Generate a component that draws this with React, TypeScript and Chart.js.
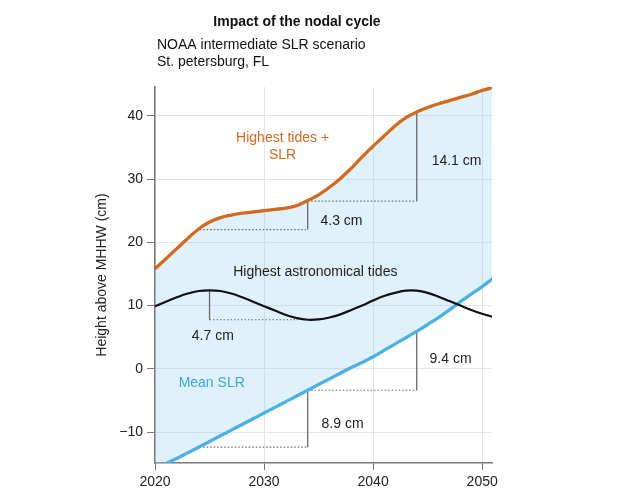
import React, { useEffect, useRef } from 'react';
import { Chart, registerables } from 'chart.js';

Chart.register(...registerables);

// ---- data ----
const years = [2020, 2021, 2022, 2023, 2024, 2025, 2026, 2027, 2028, 2029, 2030, 2031, 2032, 2033, 2034, 2035, 2036, 2037, 2038, 2039, 2040, 2041, 2042, 2043, 2044, 2045, 2046, 2047, 2048, 2049, 2050, 2051];
const highestTidesSLR = [15.8, 17.4, 19.0, 20.6, 22.1, 23.2, 23.9, 24.3, 24.6, 24.8, 25.0, 25.2, 25.4, 25.8, 26.6, 27.5, 28.7, 30.1, 31.7, 33.5, 35.2, 36.8, 38.4, 39.7, 40.6, 41.3, 41.9, 42.4, 42.9, 43.4, 44.0, 44.5];
const astroTides = [9.9, 10.6, 11.3, 11.9, 12.3, 12.4, 12.3, 11.9, 11.3, 10.6, 9.9, 9.2, 8.5, 8.0, 7.75, 7.8, 8.1, 8.6, 9.3, 10.0, 10.8, 11.5, 12.0, 12.35, 12.35, 12.0, 11.4, 10.7, 10.0, 9.3, 8.7, 8.2];
const meanSLR = [-15.9, -15.0, -14.2, -13.3, -12.4, -11.5, -10.6, -9.7, -8.8, -7.9, -7.0, -6.1, -5.2, -4.3, -3.4, -2.5, -1.6, -0.7, 0.2, 1.0, 1.9, 2.9, 3.9, 4.9, 5.9, 7.0, 8.1, 9.3, 10.6, 11.8, 13.0, 14.3];

const xTicks = [2020, 2030, 2040, 2050];
const yTicks = [-10, 0, 10, 20, 30, 40];

// vertical marker segments: [x, yTop, yBottom]
const verticalMarkers = [
  [2025, 12.4, 7.75],
  [2034, 26.6, 22.0],
  [2044, 40.6, 26.5],
  [2034, -3.4, -12.4],
  [2044, 5.9, -3.4],
];
// dotted horizontal segments: [xStart, xEnd, y]
const dottedMarkers = [
  [2025, 2033.1, 7.75],
  [2024.1, 2034, 22.0],
  [2034, 2044, 26.5],
  [2024.1, 2034, -12.4],
  [2034, 2044, -3.4],
];

// text labels: [text, x, y, kind]
const textLabels: [string, number, number, string][] = [
  ['Highest tides +', 2031.7, 36.5, 'orange'],
  ['SLR', 2031.7, 33.8, 'orange'],
  ['Highest astronomical tides', 2034.7, 15.2, 'black'],
  ['4.7 cm', 2025.3, 5.1, 'black'],
  ['Mean SLR', 2025.2, -2.2, 'blue'],
  ['4.3 cm', 2037.1, 23.3, 'black'],
  ['14.1 cm', 2047.65, 32.8, 'black'],
  ['9.4 cm', 2047.1, 1.5, 'black'],
  ['8.9 cm', 2037.2, -8.7, 'black'],
];

const titleText = 'Impact of the nodal cycle';
const subtitleLines = ['NOAA intermediate SLR scenario', 'St. petersburg, FL'];

const FONT = '"Liberation Sans", Arial, Helvetica, sans-serif';
const ORANGE = '#d2691e';
const BLUE = '#4db0e2';
const LABEL_BLUE = '#3fa6da';
const MARK = '#6a6a6a';

const toPoints = (vals: number[]) => years.map((y, i) => ({ x: y, y: vals[i] }));

const textPlugin = {
  id: 'texts',
  afterDatasetsDraw(chart: any) {
    const { ctx, scales } = chart;
    ctx.save();
    ctx.font = `14px ${FONT}`;
    ctx.textAlign = 'center';
    ctx.textBaseline = 'middle';
    for (const [t, x, y, kind] of textLabels) {
      ctx.fillStyle = kind === 'orange' ? ORANGE : kind === 'blue' ? LABEL_BLUE : '#222';
      ctx.fillText(t, scales.x.getPixelForValue(x), scales.y.getPixelForValue(y));
    }
    ctx.restore();
  },
  afterDraw(chart: any) {
    const { ctx } = chart;
    ctx.save();
    ctx.fillStyle = '#111';
    ctx.textBaseline = 'middle';
    ctx.font = `bold 14px ${FONT}`;
    ctx.textAlign = 'center';
    ctx.fillText(titleText, 297, 22.5);
    ctx.font = `14px ${FONT}`;
    ctx.textAlign = 'left';
    subtitleLines.forEach((l, i) => ctx.fillText(l, 157, 45 + i * 17.5));
    ctx.restore();
  },
};

export default function App() {
  const ref = useRef<HTMLCanvasElement>(null);
  useEffect(() => {
    if (!ref.current) return;
    const markerSets: any[] = [];
    verticalMarkers.forEach(([x, y1, y2]) =>
      markerSets.push({
        data: [{ x, y: y1 }, { x, y: y2 }],
        borderColor: MARK,
        borderWidth: 1.3,
        pointRadius: 0,
        fill: false,
      })
    );
    dottedMarkers.forEach(([x1, x2, y]) =>
      markerSets.push({
        data: [{ x: x1, y }, { x: x2, y }],
        borderColor: MARK,
        borderWidth: 1.2,
        borderDash: [1.5, 2],
        pointRadius: 0,
        fill: false,
      })
    );
    const chart = new Chart(ref.current, {
      type: 'line',
      data: {
        datasets: [
          {
            label: 'Highest tides + SLR',
            data: toPoints(highestTidesSLR),
            borderColor: ORANGE,
            borderWidth: 3.3,
            pointRadius: 0,
            cubicInterpolationMode: 'monotone',
            fill: { target: 2 },
            backgroundColor: 'rgba(150, 210, 240, 0.3)',
          },
          {
            label: 'Highest astronomical tides',
            data: toPoints(astroTides),
            borderColor: '#111',
            borderWidth: 2.2,
            pointRadius: 0,
            tension: 0.4,
            fill: false,
          },
          {
            label: 'Mean SLR',
            data: toPoints(meanSLR),
            borderColor: BLUE,
            borderWidth: 3.3,
            pointRadius: 0,
            cubicInterpolationMode: 'monotone',
            fill: false,
          },
          ...markerSets,
        ],
      },
      options: {
        responsive: false,
        animation: false,
        devicePixelRatio: 1,
        layout: { padding: { top: 87, right: 138, left: 0, bottom: 0 } },
        plugins: {
          legend: { display: false },
          tooltip: { enabled: false },
          filler: { drawTime: 'beforeDatasetsDraw' },
        },
        scales: {
          x: {
            type: 'linear',
            min: 2020,
            max: 2050.9,
            afterBuildTicks: (s: any) => {
              s.ticks = xTicks.map((v) => ({ value: v }));
            },
            afterFit: (s: any) => {
              s.height = 34;
            },
            ticks: {
              callback: (v: any) => String(v),
              font: { family: FONT, size: 14 },
              color: '#222',
              padding: 4,
              maxRotation: 0,
            },
            grid: { color: '#e4e4e4', tickColor: '#777', tickLength: 7, lineWidth: 1 },
            border: { color: '#777', width: 1.5 },
          },
          y: {
            type: 'linear',
            min: -14.9,
            max: 44.55,
            afterBuildTicks: (s: any) => {
              s.ticks = yTicks.map((v) => ({ value: v }));
            },
            afterFit: (s: any) => {
              s.width = 155;
            },
            ticks: {
              callback: (v: any) => String(v).replace('-', '\u2212'),
              font: { family: FONT, size: 14 },
              color: '#222',
              padding: 4,
            },
            grid: { color: '#e4e4e4', tickColor: '#777', tickLength: 8, lineWidth: 1 },
            border: { color: '#777', width: 1.5 },
            title: {
              display: true,
              text: 'Height above MHHW (cm)',
              font: { family: FONT, size: 14 },
              color: '#222',
              padding: { top: 94, bottom: 0 },
            },
          },
        },
      },
      plugins: [textPlugin],
    } as any);
    return () => chart.destroy();
  }, []);
  return (
    <div style={{ position: 'absolute', left: 0, top: 0, width: 630, height: 497, background: '#fff' }}>
      <canvas ref={ref} width={630} height={497} style={{ display: 'block' }} />
    </div>
  );
}
